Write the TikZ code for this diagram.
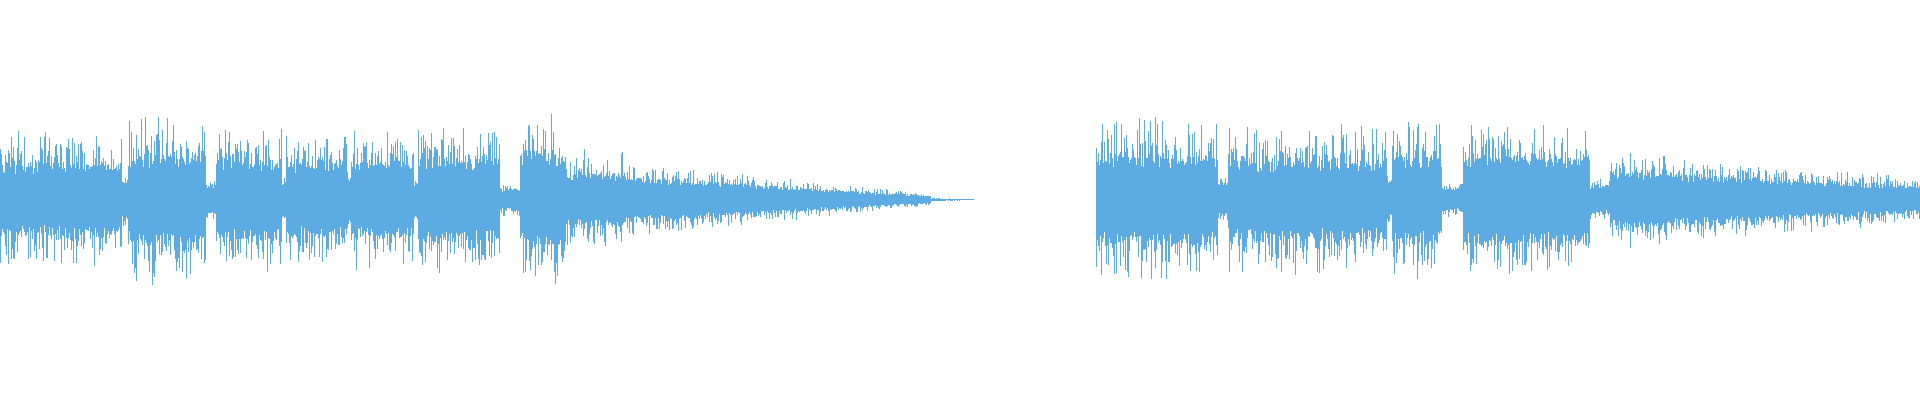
\documentclass[tikz,border=0pt]{standalone}
\definecolor{wave}{RGB}{93,171,227}
\begin{document}
\begin{tikzpicture}[x=0.5pt,y=-0.5pt,wavestroke/.style={draw=wave,line width=0.35pt}]
\useasboundingbox (0,0) rectangle (1568,327);
\pgfmathsetseed{7}
\foreach \a/\b/\ca/\cb/\sa/\sb in {
0/100/30/30/58/58, 100/105/15/15/25/25, 105/168/36/36/72/72,
168/177/12/12/18/18, 177/230/33/33/60/60, 230/234/15/15/20/20,
234/283/31/31/56/56, 283/287/20/20/30/30, 287/338/31/31/58/58,
338/342/15/15/20/20, 342/408/34/34/62/62, 408/425/9/9/14/14,
425/462/38/38/76/76, 462/510/22/22/42/42, 510/760/19/3/33/5,
760/795/1/0.5/1.5/0.5, 895/995/36/36/72/72, 995/1003/15/15/22/22,
1003/1133/32/32/64/64, 1133/1137/15/15/22/22, 1137/1177/35/35/70/70,
1177/1195/10/10/15/15, 1195/1298/36/36/64/64, 1298/1315/12/12/18/18,
1315/1360/22/22/40/40, 1360/1568/21/11/36/20}{
  \pgfmathtruncatemacro\N{(\b-\a)/0.7}
  \foreach \i in {0,...,\N}{
    \pgfmathsetmacro\t{\i/max(\N,1)}
    \pgfmathsetmacro\xx{\a+0.7*\i}
    \pgfmathsetmacro\c{\ca+(\cb-\ca)*\t}
    \pgfmathsetmacro\s{\sa+(\sb-\sa)*\t}
    \pgfmathsetmacro\hu{\c*(0.7+0.3*rnd)+(\s-\c)*rnd^3}
    \pgfmathsetmacro\hd{\c*(0.7+0.3*rnd)+(\s-\c)*rnd^3}
    \path[wavestroke] (\xx,163-\hu) -- (\xx,163+\hd);
  }
}
\end{tikzpicture}
\end{document}
